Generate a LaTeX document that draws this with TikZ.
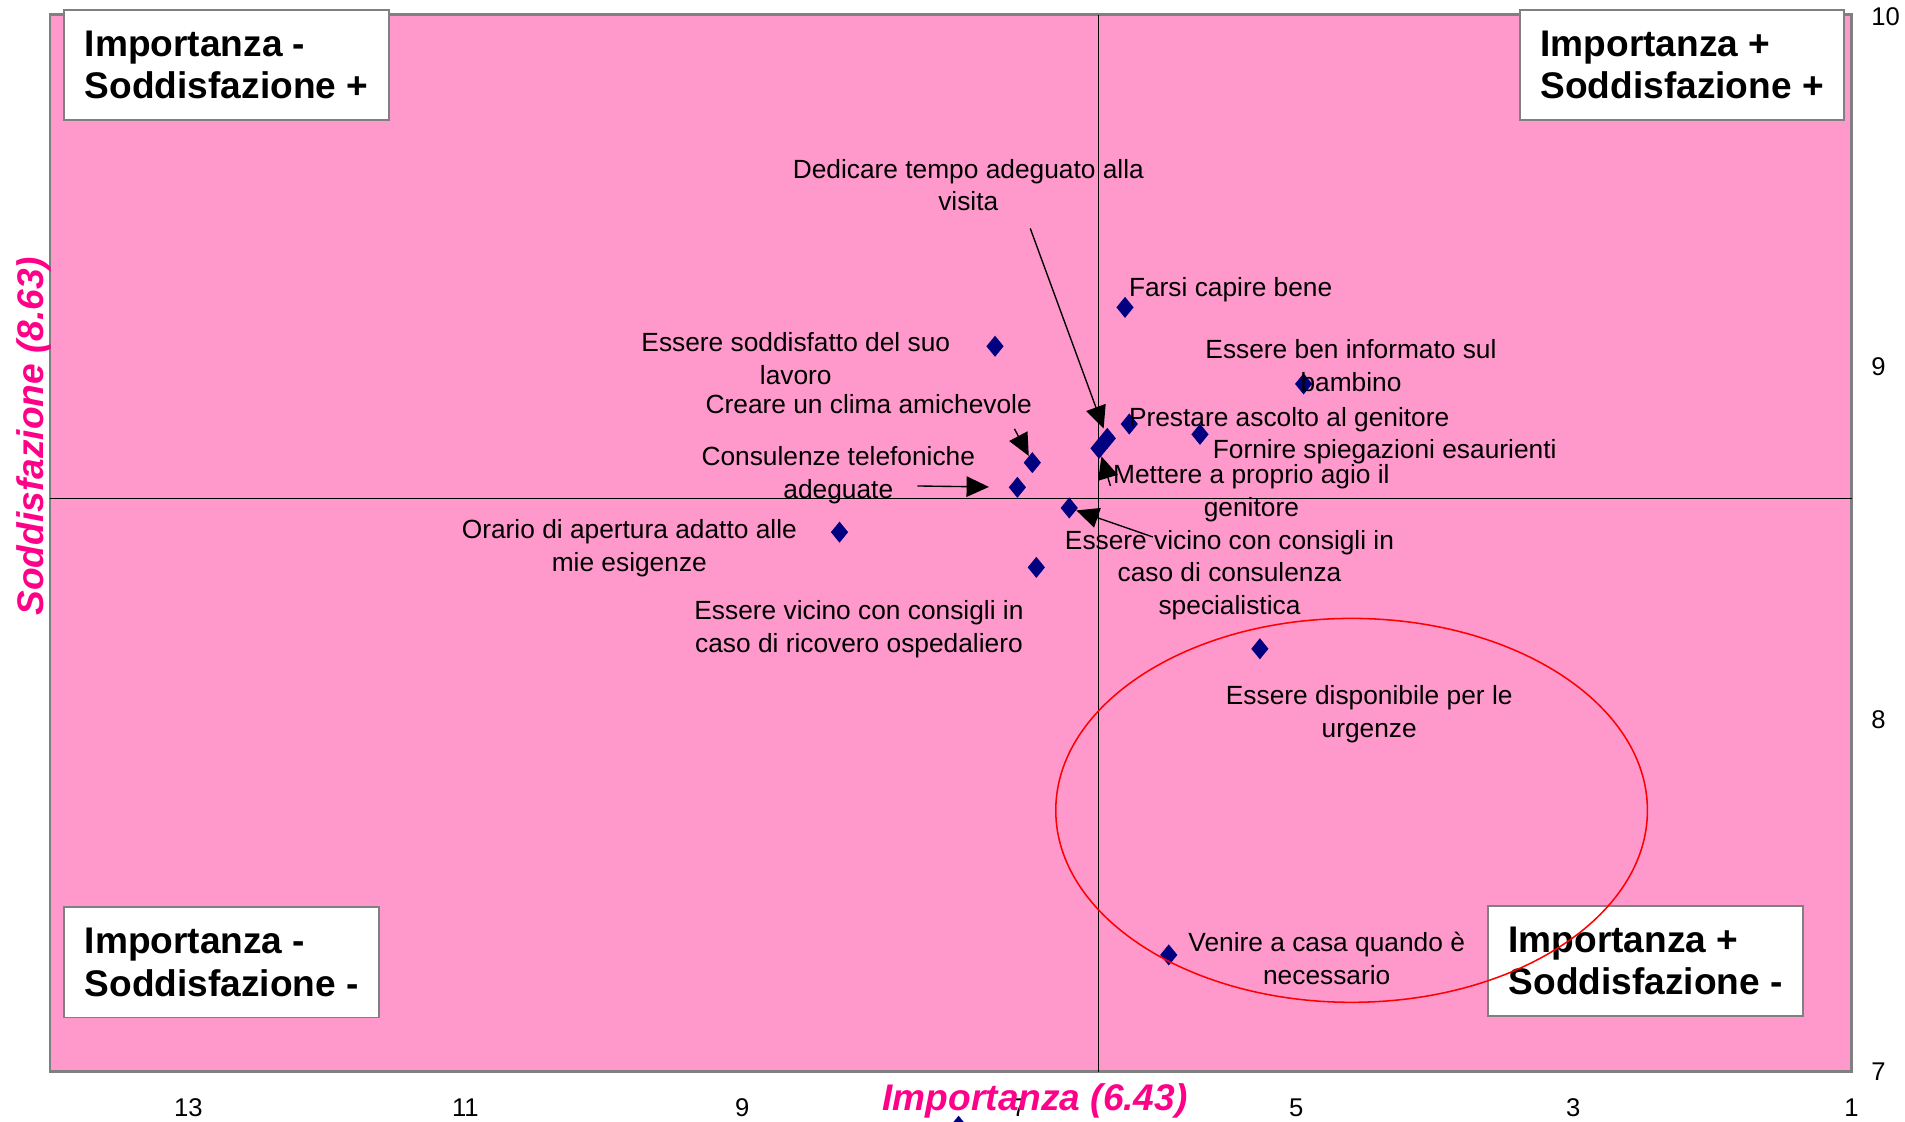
\documentclass[tikz,border=0pt]{standalone}
\usepackage{fontspec}
\setmainfont{Liberation Sans}
\usetikzlibrary{arrows.meta,shapes.geometric}

\definecolor{fondo}{RGB}{255,153,204}
\definecolor{punto}{RGB}{0,0,128}
\definecolor{titolo}{RGB}{255,0,136}
\definecolor{cornice}{RGB}{128,128,128}

\tikzset{
  dato/.style={diamond, fill=punto, inner sep=0pt, minimum width=0.36cm, minimum height=0.44cm},
  etich/.style={font=\fontsize{15.4}{19.2}\selectfont, align=center, inner sep=0pt, yshift=-0.06cm},
  quadr/.style={draw=cornice, line width=1pt, fill=white, font=\fontsize{21.7}{24.9}\selectfont\bfseries,
    align=left, inner sep=0pt, minimum height=2.27cm},
  freccia/.style={-{Triangle[length=0.46cm,width=0.42cm]}, line width=0.8pt},
  tacca/.style={font=\fontsize{15}{18}\selectfont, inner sep=0pt},
  asse/.style={font=\fontsize{21.7}{24}\selectfont\bfseries\itshape, text=titolo, inner sep=0pt}
}

\begin{document}
\begin{tikzpicture}[x=0.025cm, y=-0.025cm]

	\useasboundingbox (0,0) rectangle (1568,923);

	% area del grafico
	\draw[fill=fondo, draw=cornice, line width=1.5pt] (41,12) rectangle (1524,882);
	\draw[line width=0.6pt] (904,12) -- (904,882);
	\draw[line width=0.6pt] (41,410) -- (1524,410);

	% riquadri
	\node (qA) [quadr, minimum width=6.675cm] at (186.5, 53.5) {Importanza -\\Soddisfazione +};
	\node (qB) [quadr, minimum width=6.675cm] at (1384.5, 53.5) {Importanza +\\Soddisfazione +};
	\node (qC) [quadr, minimum width=6.475cm] at (182.5, 792) {Importanza -\\Soddisfazione -};
	\node (qD) [quadr, minimum width=6.475cm] at (1354.5, 791) {Importanza +\\Soddisfazione -};

	% punti
	\node (farsi) [dato] at (926, 253) {};
	\node (soddisf) [dato] at (819, 285) {};
	\node (informato) [dato] at (1073, 316) {};
	\node (ascolto) [dato] at (929.5, 349) {};
	\node (spiegaz) [dato] at (987.7, 357.5) {};
	\node (tempo) [dato] at (911.4, 360.8) {};
	\node (agio) [dato] at (904.6, 369) {};
	\node (clima) [dato] at (849.7, 380.8) {};
	\node (telef) [dato] at (837.4, 401.1) {};
	\node (special) [dato] at (880.1, 418.1) {};
	\node (orario) [dato] at (691, 438) {};
	\node (ricovero) [dato] at (853, 467) {};
	\node (urgenze) [dato] at (1037, 534) {};
	\node (casa) [dato] at (962, 786) {};
	\node (legenda) [dato] at (789, 927) {};

	% etichette
	\node (lTempo) [etich] at (797, 150) {Dedicare tempo adeguato alla\\visita};
	\node (lFarsi) [etich, anchor=west] at (929, 236) {Farsi capire bene};
	\node (lSoddisf) [etich] at (655, 292.5) {Essere soddisfatto del suo\\lavoro};
	\node (lInformato) [etich] at (1112, 298.5) {Essere ben informato sul\\bambino};
	\node (lClima) [etich] at (715, 330) {Creare un clima amichevole};
	\node (lAscolto) [etich, anchor=west] at (929, 343) {Prestare ascolto al genitore};
	\node (lSpiegaz) [etich, anchor=west] at (998, 369) {Fornire spiegazioni esaurienti};
	\node (lTelef) [etich] at (690, 388.5) {Consulenze telefoniche\\adeguate};
	\node (lAgio) [etich] at (1030, 403.5) {Mettere a proprio agio il\\genitore};
	\node (lOrario) [etich] at (518, 448.5) {Orario di apertura adatto alle\\mie esigenze};
	\node (lSpecial) [etich] at (1012, 471) {Essere vicino con consigli in\\caso di consulenza\\specialistica};
	\node (lRicovero) [etich] at (707, 515.5) {Essere vicino con consigli in\\caso di ricovero ospedaliero};
	\node (lUrgenze) [etich] at (1127, 585.5) {Essere disponibile per le\\urgenze};
	\node (lCasa) [etich] at (1092, 786.5) {Venire a casa quando è\\necessario};

	% frecce
	\coordinate (cTempo) at (848, 188);
	\coordinate (cClima) at (835, 353);
	\coordinate (cTelef) at (755, 400);
	\coordinate (cAgio) at (914, 400);
	\coordinate (cSpecial) at (949, 442);

	\path[freccia]
	(cTempo) edge[shorten >=0.05cm] (tempo)
	(cClima) edge (clima)
	(cTelef) edge[shorten >=0.4cm] (telef)
	(cAgio) edge (agio)
	(cSpecial) edge (special);

	% ellisse
	\draw[red, line width=0.9pt] (1112.5, 667) ellipse [x radius=243.5, y radius=158];

	% assi
	\node (x13) [tacca] at (155, 912) {13};
	\node (x11) [tacca] at (383, 912) {11};
	\node (x9) [tacca] at (611, 912) {9};
	\node (x7) [tacca] at (839, 912) {7};
	\node (x5) [tacca] at (1067, 912) {5};
	\node (x3) [tacca] at (1295, 912) {3};
	\node (x1) [tacca] at (1524, 912) {1};

	\node (y10) [tacca, anchor=west] at (1540, 14) {10};
	\node (y9) [tacca, anchor=west] at (1540, 302) {9};
	\node (y8) [tacca, anchor=west] at (1540, 592) {8};
	\node (y7) [tacca, anchor=west] at (1540, 882) {7};

	\node (assex) [asse] at (852, 906) {Importanza (6.43)};
	\node (assey) [asse, rotate=90] at (28, 359) {Soddisfazione (8.63)};

\end{tikzpicture}
\end{document}
